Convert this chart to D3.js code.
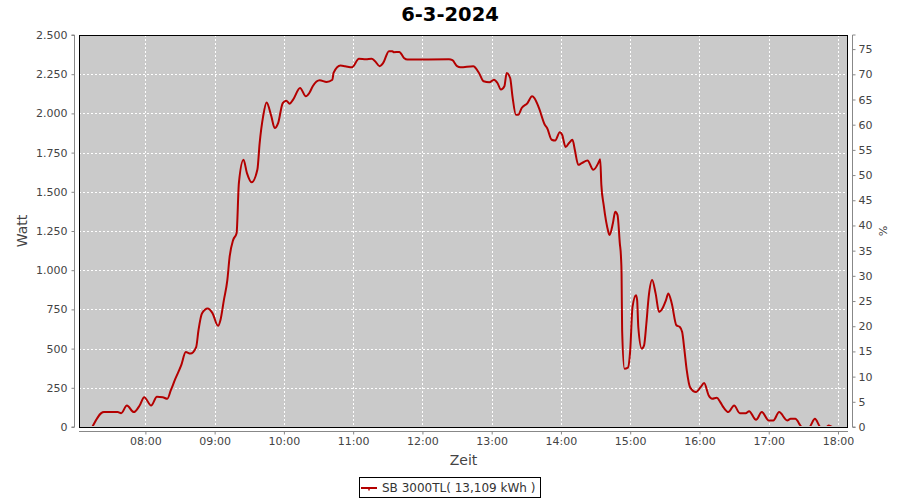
<!DOCTYPE html>
<html>
<head>
<meta charset="utf-8">
<script src="https://cdn.jsdelivr.net/npm/d3@7"></script>
<style>
  html, body { margin: 0; padding: 0; background: #ffffff; }
  svg { display: block; font-family: "DejaVu Sans", sans-serif; }
</style>
</head>
<body>
<svg id="chart" width="900" height="500"></svg>
<script>
// ---- data ----
const chartTitle = "6-3-2024";
const seriesName = "SB 3000TL( 13,109 kWh )";
const times = [
  "07:14","07:24","07:36","07:39","07:44","07:50","07:55","07:59","08:05","08:10",
  "08:15","08:19","08:22","08:26","08:31","08:35","08:39","08:44","08:46","08:49",
  "08:54","08:58","09:03","09:05","09:08","09:11","09:13","09:16","09:19","09:21",
  "09:25","09:28","09:32","09:37","09:39","09:42","09:45","09:49","09:52","09:55",
  "09:59","10:02","10:05","10:08","10:14","10:19","10:22","10:25","10:31","10:37",
  "10:42","10:43","10:49","10:53","10:59","11:05","11:11","11:16","11:19","11:23",
  "11:26","11:31","11:34","11:35","11:40","11:44","11:47","12:23","12:26","12:30",
  "12:33","12:44","12:49","12:53","12:58","13:02","13:05","13:08","13:11","13:13",
  "13:16","13:18","13:21","13:23","13:26","13:31","13:35","13:37","13:41","13:46",
  "13:48","13:52","13:55","13:59","14:01","14:04","14:07","14:10","14:12","14:15",
  "14:18","14:23","14:28","14:33","14:34","14:35","14:37","14:41","14:42","14:45",
  "14:47","14:49","14:51","14:52","14:52:30","14:53","14:55","14:58","15:00","15:02",
  "15:05","15:06","15:07","15:10","15:12","15:14","15:16","15:19","15:22","15:25",
  "15:27","15:31","15:33","15:36","15:40","15:43","15:45","15:47","15:49","15:52",
  "15:57","16:01","16:04","16:08","16:11","16:15","16:18","16:21","16:25","16:30",
  "16:35","16:40","16:43","16:49","16:54","17:00","17:04","17:09","17:16","17:19",
  "17:23","17:29","17:35","17:40","17:45","17:50","17:52","17:55"
];
const watts = [
  0,95,95,88,137,95,137,190,137,193,
  190,180,233,308,393,478,468,510,617,724,
  756,728,645,681,809,937,1086,1192,1235,1555,
  1704,1619,1561,1640,1811,1981,2070,1985,1907,1938,
  2066,2081,2062,2088,2162,2109,2130,2173,2211,2201,
  2215,2258,2305,2301,2294,2348,2345,2348,2333,2301,
  2322,2397,2397,2390,2392,2354,2343,2345,2339,2301,
  2294,2301,2258,2205,2198,2215,2194,2152,2173,2258,
  2226,2109,1992,1992,2034,2066,2109,2098,2034,1928,
  1907,1832,1827,1879,1864,1785,1811,1832,1768,1672,
  1683,1700,1640,1693,1708,1544,1416,1246,1224,1299,
  1373,1352,1171,1086,980,617,372,379,489,766,
  841,809,638,500,521,660,830,937,852,734,
  745,809,852,788,649,638,606,489,361,251,
  223,254,280,201,180,187,159,123,95,137,
  88,88,101,46,95,42,42,95,42,52,
  52,0,0,52,0,0,10,0
];
const xTickLabels = ["08:00","09:00","10:00","11:00","12:00","13:00","14:00","15:00","16:00","17:00","18:00"];
const yLeftTicks = [0,250,500,750,1000,1250,1500,1750,2000,2250,2500];
const yRightTicks = [0,5,10,15,20,25,30,35,40,45,50,55,60,65,70,75];
const xDomain = ["07:02:30","18:08:40"];
const yLeftMax = 2500;
const yRightMax = 77.8;

// ---- layout ----
const svg = d3.select("#chart");
const L = 79, R = 848, T = 35, B = 427;
const parse = s => {
  const p = s.split(":").map(Number);
  return new Date(2024, 2, 6, p[0], p[1], p[2] || 0);
};
const data = times.map((t, i) => ({ t: parse(t), v: watts[i] }));

const x = d3.scaleTime().domain(xDomain.map(parse)).range([L, R]);
const y = d3.scaleLinear().domain([0, yLeftMax]).range([B, T]);
const y2 = d3.scaleLinear().domain([0, yRightMax]).range([B, T]);

const tickTimes = xTickLabels.map(parse);
const tickColor = "#444";
const axisColor = "#888";

// plot background
svg.append("rect").attr("x", L).attr("y", T).attr("width", R - L).attr("height", B - T)
  .attr("fill", "#cacaca");

// grid
const grid = svg.append("g").attr("stroke", "#ffffff").attr("stroke-width", 1)
  .attr("stroke-dasharray", "2,2").attr("shape-rendering", "crispEdges");
grid.selectAll("line.v").data(tickTimes).enter().append("line")
  .attr("x1", d => Math.round(x(d)) + 0.5).attr("x2", d => Math.round(x(d)) + 0.5)
  .attr("y1", T).attr("y2", B);
grid.selectAll("line.h").data(yLeftTicks.filter(d => d > 0 && d < yLeftMax)).enter().append("line")
  .attr("y1", d => Math.round(y(d)) + 0.5).attr("y2", d => Math.round(y(d)) + 0.5)
  .attr("x1", L).attr("x2", R);

// line
const clip = svg.append("clipPath").attr("id", "clip").append("rect")
  .attr("x", L).attr("y", T - 2).attr("width", R - L).attr("height", B - T + 1);
const line = d3.line().x(d => x(d.t)).y(d => y(d.v)).curve(d3.curveMonotoneX);
svg.append("path").datum(data).attr("d", line)
  .attr("fill", "none").attr("stroke", "#b40000").attr("stroke-width", 2)
  .attr("stroke-linejoin", "round").attr("clip-path", "url(#clip)");

// plot border
svg.append("rect").attr("x", L + 0.5).attr("y", T + 0.5).attr("width", R - L - 1).attr("height", B - T)
  .attr("fill", "none").attr("stroke", "#000").attr("stroke-width", 1);

// left axis
const fmtDE = d => d3.format(",")(d).replace(/,/g, ".");
const gl = svg.append("g").attr("transform", `translate(${L - 4.5},0)`)
  .call(d3.axisLeft(y).tickValues(yLeftTicks).tickSize(3).tickPadding(4).tickFormat(fmtDE));
// bottom axis
const gb = svg.append("g").attr("transform", `translate(0,${B + 4.5})`)
  .call(d3.axisBottom(x).tickValues(tickTimes).tickSize(3).tickPadding(3).tickFormat(d3.timeFormat("%H:%M")));
// right axis
const gr = svg.append("g").attr("transform", `translate(${R + 4.5},0)`)
  .call(d3.axisRight(y2).tickValues(yRightTicks).tickSize(3).tickPadding(3).tickFormat(d3.format("d")));

[gl, gb, gr].forEach(g => {
  g.selectAll("path.domain").attr("stroke", axisColor);
  g.selectAll(".tick line").attr("stroke", axisColor);
  g.selectAll("text").attr("fill", tickColor).style("font-size", "11px")
    .style("font-family", "'DejaVu Sans', sans-serif");
});
gl.select("path.domain").attr("d", `M-3,${y(0)}H0V${T}H-3`).attr("fill", "none");
gr.select("path.domain").attr("d", `M3,${y2(0)}H0V${T}H3`).attr("fill", "none");
gb.select("path.domain").attr("d", `M${L},0H${R}`).attr("fill", "none");

// title
svg.append("text").attr("x", 450).attr("y", 21).attr("text-anchor", "middle")
  .style("font-size", "19.5px").style("font-weight", "bold").attr("fill", "#000")
  .text(chartTitle);

// axis labels
svg.append("text").attr("transform", `translate(27,${(T + B) / 2}) rotate(-90)`)
  .attr("text-anchor", "middle").style("font-size", "14px").attr("fill", "#444").text("Watt");
svg.append("text").attr("x", (L + R) / 2).attr("y", 465).attr("text-anchor", "middle")
  .style("font-size", "14px").attr("fill", "#444").text("Zeit");
svg.append("text").attr("transform", `translate(879,${(T + B) / 2}) rotate(90)`)
  .attr("text-anchor", "middle").style("font-size", "11px").attr("fill", "#444").text("%");

// legend
const lg = svg.append("g");
lg.append("rect").attr("x", 359.5).attr("y", 477.5).attr("width", 181).attr("height", 20)
  .attr("fill", "#fff").attr("stroke", "#000").attr("stroke-width", 1);
lg.append("line").attr("x1", 361).attr("x2", 377).attr("y1", 488).attr("y2", 488)
  .attr("stroke", "#b40000").attr("stroke-width", 2);
lg.append("line").attr("x1", 369).attr("x2", 369).attr("y1", 488).attr("y2", 490.5)
  .attr("stroke", "#b40000").attr("stroke-width", 1.5);
lg.append("text").attr("x", 382).attr("y", 492).style("font-size", "12px").attr("fill", "#333")
  .text(seriesName);
</script>
</body>
</html>
